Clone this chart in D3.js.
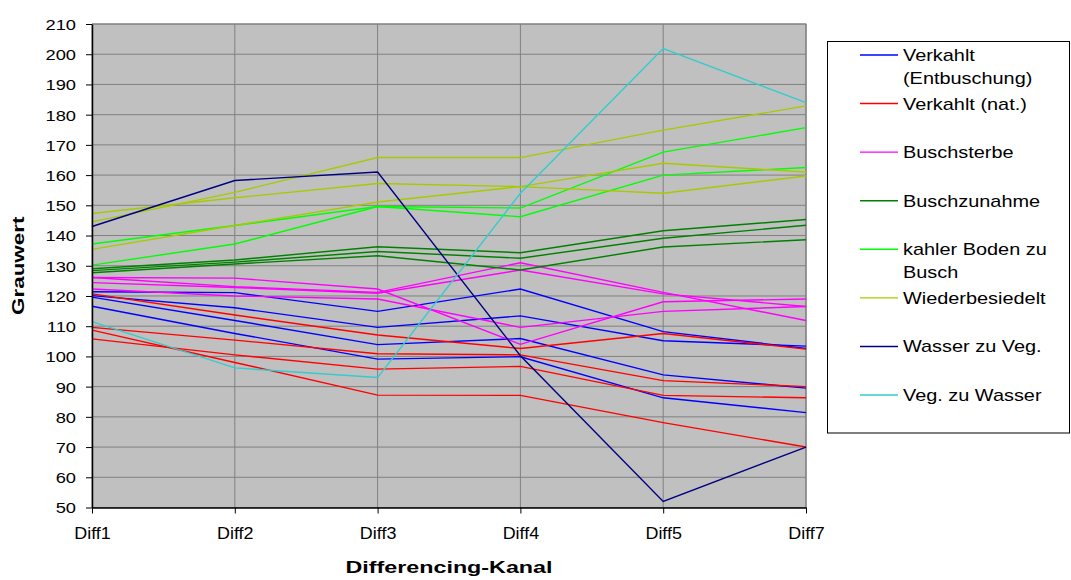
<!DOCTYPE html>
<html><head><meta charset="utf-8">
<script src="https://cdn.jsdelivr.net/npm/d3@7"></script>
<style>
body{margin:0;background:#fff}
text{font-family:"Liberation Sans",Arial,sans-serif;fill:#000}
</style>
</head><body>
<svg id="chart" width="1071" height="580"></svg>
<script>
// ---- data ----
const categories = ["Diff1","Diff2","Diff3","Diff4","Diff5","Diff7"];
const yTicks = [50,60,70,80,90,100,110,120,130,140,150,160,170,180,190,200,210];
const seriesNames = ["Verkahlt (Entbuschung)","Verkahlt (nat.)","Buschsterbe","Buschzunahme",
  "kahler Boden zu Busch","Wiederbesiedelt","Wasser zu Veg.","Veg. zu Wasser"];
const legendLabels = [["Verkahlt","(Entbuschung)"],["Verkahlt (nat.)"],["Buschsterbe"],["Buschzunahme"],
  ["kahler Boden zu","Busch"],["Wiederbesiedelt"],["Wasser zu Veg."],["Veg. zu Wasser"]];

const verkahltEntbuschung = [
  [121.4,121.1,114.9,122.3,108.2,102.6],
  [120.1,116.1,109.6,113.4,105.2,103.4],
  [119.6,111.9,103.9,105.9, 93.9, 89.5],
  [116.6,107.6, 99.1, 99.9, 86.3, 81.4]
];
const verkahltNat = [
  [120.7,113.7,107.1,102.6,107.6,102.4],
  [109.6,105.4,100.9,100.5, 92.0, 90.0],
  [105.8,100.5, 95.8, 96.7, 87.1, 86.3],
  [108.7, 98.0, 87.2, 87.1, 78.1, 70.0]
];
const buschsterbe = [
  [126.1,125.9,122.3,104.0,118.1,119.0],
  [126.1,123.1,121.2,131.0,121.2,111.9],
  [124.4,122.8,120.9,128.6,120.7,116.5],
  [122.3,120.0,119.0,109.6,114.9,116.5]
];
const buschzunahme = [
  [129.0,131.9,136.3,134.3,141.6,145.3],
  [128.4,131.2,134.7,132.5,139.1,143.4],
  [127.7,130.6,133.3,128.6,136.2,138.6]
];
const kahlerBoden = [
  [137.2,143.3,149.6,149.1,167.6,175.7],
  [130.2,137.2,149.6,146.2,160.0,162.5]
];
const wiederbesiedelt = [
  [144.5,154.3,165.8,165.8,174.9,182.9],
  [147.3,152.5,157.2,156.2,163.9,161.0],
  [135.4,143.3,151.1,156.2,154.0,159.7]
];
const wasserZuVeg = [
  [143.0,158.2,161.0,100.2, 52.0, 70.0]
];
const vegZuWasser = [
  [111.5, 96.2, 93.0,154.0,201.9,184.0]
];

// ---- styles ----
const colors = ["#0000FF","#FF0000","#FF00FF","#008000","#00FF00","#A6CA00","#000080","#33CCCC"];
const groups = [verkahltEntbuschung,verkahltNat,buschsterbe,buschzunahme,kahlerBoden,wiederbesiedelt,wasserZuVeg,vegZuWasser];

const svg = d3.select("#chart");
const L = 92, R = 806, T = 24, B = 507.5;

const x = d3.scalePoint().domain(categories).range([L, R]);
const y = d3.scaleLinear().domain([50, 210]).range([B, T]);

// plot background
svg.append("rect").attr("x", L).attr("y", T).attr("width", R - L).attr("height", B - T)
  .attr("fill", "#C0C0C0");

// gridlines
svg.append("g").selectAll("line").data(yTicks).join("line")
  .attr("x1", L).attr("x2", R).attr("y1", d => y(d)).attr("y2", d => y(d))
  .attr("stroke", "#808080").attr("stroke-width", 1);
svg.append("g").selectAll("line").data(categories).join("line")
  .attr("x1", d => x(d)).attr("x2", d => x(d)).attr("y1", T).attr("y2", B)
  .attr("stroke", "#808080").attr("stroke-width", 1);
// plot border (top/right)
svg.append("path").attr("d", `M${L},${T}H${R}V${B}`).attr("fill", "none")
  .attr("stroke", "#808080").attr("stroke-width", 1.2);

// lines
const lineGen = d3.line().x((d, i) => x(categories[i])).y(d => y(d));
groups.forEach((g, gi) => {
  svg.append("g").selectAll("path").data(g).join("path")
    .attr("d", lineGen).attr("fill", "none")
    .attr("stroke", colors[gi]).attr("stroke-width", 1.4);
});

// axes
const syx = 1.22, sxx = 1.12;
const yAxis = svg.append("g").attr("transform", `translate(${L},0)`)
  .call(d3.axisLeft(y).tickValues(yTicks).tickSize(6).tickSizeOuter(0).tickPadding(0));
yAxis.select(".domain").attr("stroke", "#000").attr("stroke-width", 1.5);
yAxis.selectAll(".tick line").attr("stroke", "#000");
yAxis.selectAll(".tick text").attr("x", -16 / syx).attr("dy", "0.36em")
  .attr("transform", `scale(${syx},1)`).style("font-size", "15px").attr("fill", "#000");

const xAxis = svg.append("g").attr("transform", `translate(0,${B})`)
  .call(d3.axisBottom(x).tickSize(6).tickSizeOuter(0).tickPadding(0));
xAxis.select(".domain").attr("stroke", "#000").attr("stroke-width", 1.5);
xAxis.selectAll(".tick line").attr("stroke", "#000");
xAxis.selectAll(".tick text").attr("y", 32).attr("dy", 0).attr("x", 0)
  .attr("transform", `scale(${sxx},1)`).style("font-size", "16px").attr("fill", "#000");

// axis titles
svg.append("text").attr("transform", `translate(${(L + R) / 2},573) scale(1.37,1)`)
  .attr("text-anchor", "middle").style("font-size", "17px").style("font-weight", "bold")
  .text("Differencing-Kanal");
svg.append("text").attr("transform", `translate(24,${(T + B) / 2}) rotate(-90) scale(1.4,1)`)
  .attr("text-anchor", "middle").style("font-size", "16px").style("font-weight", "bold")
  .text("Grauwert");

// legend
const lg = svg.append("g");
lg.append("rect").attr("x", 827.5).attr("y", 41.5).attr("width", 242).attr("height", 391.5)
  .attr("fill", "#fff").attr("stroke", "#000").attr("stroke-width", 1);
const ly = d3.scalePoint().domain(seriesNames).range([55, 395]);
seriesNames.forEach((name, i) => {
  const yy = ly(name);
  lg.append("line").attr("x1", 860).attr("x2", 898).attr("y1", yy).attr("y2", yy)
    .attr("stroke", colors[i]).attr("stroke-width", 1.4);
  legendLabels[i].forEach((t, j) => {
    lg.append("text").attr("transform", `translate(903,${yy + 6 + j * 23}) scale(1.17,1)`)
      .style("font-size", "17px").text(t);
  });
});
</script>
</body></html>
